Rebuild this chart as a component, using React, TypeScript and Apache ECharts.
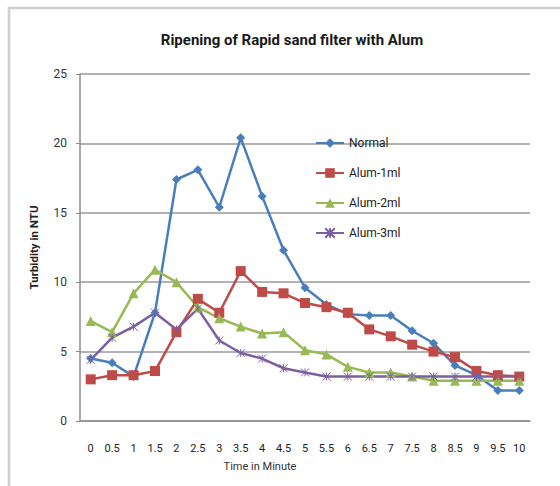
import React, { useEffect, useRef } from "react";
import * as echarts from "echarts";

const categories = ["0","0.5","1","1.5","2","2.5","3","3.5","4","4.5","5","5.5","6","6.5","7","7.5","8","8.5","9","9.5","10"];
const normal = [4.5,4.2,3.2,7.8,17.4,18.1,15.4,20.4,16.2,12.3,9.6,8.4,7.7,7.6,7.6,6.5,5.6,4.0,3.3,2.2,2.2];
const alum1 = [3.0,3.3,3.3,3.6,6.4,8.8,7.8,10.8,9.3,9.2,8.5,8.2,7.8,6.6,6.1,5.5,5.0,4.6,3.6,3.3,3.2];
const alum2 = [7.2,6.4,9.2,10.9,10.0,8.2,7.4,6.8,6.3,6.4,5.1,4.8,3.9,3.5,3.5,3.2,2.9,2.9,2.9,2.9,2.9];
const alum3 = [4.4,6.0,6.8,7.8,6.6,8.1,5.8,4.9,4.5,3.8,3.5,3.2,3.2,3.2,3.2,3.2,3.2,3.2,3.2,3.2,3.2];
const yTicks = { min: 0, max: 25, interval: 5 };

const FONT = "Roboto, 'Open Sans', sans-serif";

export default function App() {
  const ref = useRef<HTMLDivElement>(null);
  useEffect(() => {
    if (!ref.current) return;
    const chart = echarts.init(ref.current, null, { renderer: "svg" });
    const starPath = "path://M0,0 L10,10 M10,0 L0,10 M5,0 L5,10";
    const mk = (name: string, data: number[], color: string, symbol: string, size: number, extra: any = {}) => ({
      name,
      type: "line",
      data,
      symbol,
      symbolSize: size,
      showSymbol: true,
      lineStyle: { color, width: 2.5 },
      itemStyle: { color, borderColor: color, borderWidth: extra.bw ?? 0 },
      emphasis: { disabled: true },
    });
    chart.setOption({
      animation: false,
      backgroundColor: "#ffffff",
      textStyle: { fontFamily: FONT },
      title: {
        text: "Ripening of Rapid sand filter with Alum",
        left: 287,
        textAlign: "center",
        top: 27,
        textStyle: { fontFamily: FONT, fontSize: 15, fontWeight: "bold", color: "#1a1a1a" },
      },
      legend: {
        orient: "vertical",
        left: 310,
        top: 132,
        itemGap: 18,
        itemWidth: 28,
        itemHeight: 12,
        textStyle: { fontFamily: FONT, fontSize: 12, color: "#222" },
        data: ["Normal", "Alum-1ml", "Alum-2ml", "Alum-3ml"],
      },
      grid: { left: 80, right: 30, top: 74, bottom: 65 },
      xAxis: {
        type: "category",
        data: categories,
        boundaryGap: true,
        axisLine: { lineStyle: { color: "#8c8c8c", width: 1.5 } },
        axisTick: { show: false },
        axisLabel: { interval: 0, margin: 22, fontSize: 11, color: "#222", fontFamily: FONT },
      },
      yAxis: {
        type: "value",
        min: yTicks.min,
        max: yTicks.max,
        interval: yTicks.interval,
        name: "Turbidity in NTU",
        nameLocation: "middle",
        nameGap: 40,
        nameTextStyle: { fontFamily: FONT, fontSize: 11.5, fontWeight: "bold", color: "#222" },
        axisLine: { show: true, lineStyle: { color: "#8c8c8c", width: 1.5 } },
        axisTick: { show: true, length: 4, lineStyle: { color: "#8c8c8c" } },
        axisLabel: { margin: 13, fontSize: 12, color: "#333", fontFamily: FONT },
        splitLine: { lineStyle: { color: "#9a9a9a", width: 1.5 } },
      },
      graphic: [
        {
          type: "rect",
          shape: { x: 9, y: 8, width: 560, height: 500 },
          style: { fill: "none", stroke: "#cfcfcf", lineWidth: 2.5 },
          silent: true,
        },
        {
          type: "text",
          x: 260,
          y: 466,
          style: { text: "Time in Minute", fontFamily: FONT, fontSize: 11, fill: "#333", textAlign: "center", textVerticalAlign: "middle" },
        },
      ],
      series: [
        mk("Normal", normal, "#4a7ebb", "diamond", 9),
        mk("Alum-1ml", alum1, "#be4b48", "rect", 10),
        mk("Alum-2ml", alum2, "#98b954", "triangle", 10),
        mk("Alum-3ml", alum3, "#7d5fa0", starPath, 8, { bw: 1 }),
      ],
    });
    return () => chart.dispose();
  }, []);
  return (
    <div
      ref={ref}
      style={{ position: "absolute", left: 0, top: 0, width: 560, height: 486 }}
    />
  );
}
